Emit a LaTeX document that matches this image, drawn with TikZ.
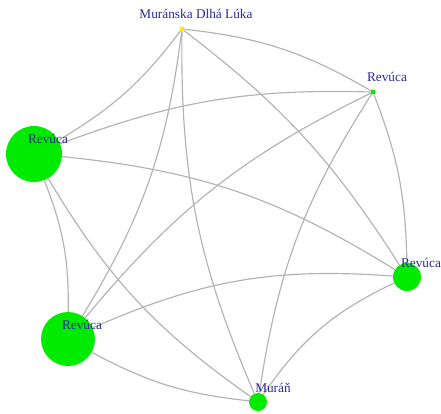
\documentclass[tikz,border=0pt]{standalone}
\usepackage{fontspec}
\setmainfont{Liberation Serif}
\definecolor{vgreen}{RGB}{0,235,0}
\definecolor{vyellow}{RGB}{255,225,20}
\definecolor{lblue}{RGB}{40,40,150}
\definecolor{egray}{RGB}{178,178,178}
\begin{document}
\begin{tikzpicture}[x=1pt, y=-1pt]

        \tikzstyle{town} = [circle, fill=vgreen, inner sep=0];
        \tikzstyle{townname} = [anchor=base, text=lblue, inner sep=0, font=\fontsize{13.3}{15}\selectfont];
        \tikzstyle{link} = [draw=egray, line width=1.15pt, bend angle=12];

        \useasboundingbox (0,0) rectangle (441,414);

        % Nodes
        \node[town, fill=vyellow, minimum size=5] (ML) at (182,29) {};
        \node[town, minimum size=5] (R1) at (373,92) {};
        \node[town, minimum size=56] (R2) at (34,154) {};
        \node[town, minimum size=28] (R3) at (407,277) {};
        \node[town, minimum size=54] (R4) at (68,339) {};
        \node[town, minimum size=18] (MU) at (258,402) {};

        % Edges
        \path[link] (ML) edge [bend left] (R1);
        \path[link] (ML) edge [bend left=11] (R2);
        \path[link] (ML) edge [bend left] (R4);
        \path[link] (ML) edge [bend right] (MU);
        \path[link] (ML) edge [bend left=10] (R3);

        \path[link] (R1) edge [bend right=11] (R2);
        \path[link] (R1) edge [bend right] (R4);
        \path[link] (R1) edge [bend right] (MU);
        \path[link] (R1) edge [bend left=10] (R3);

        \path[link] (R2) edge [bend left=13] (R3);
        \path[link] (R2) edge [bend left=11] (R4);
        \path[link] (R2) edge [bend right] (MU);

        \path[link] (R4) edge [bend left=14] (R3);
        \path[link] (R4) edge [bend right=11] (MU);

        \path[link] (R3) edge [bend right=15] (MU);

        % Labels
        \node[townname] (MLT) at ([shift={(14,-10)}]ML.center) {Muránska Dlhá Lúka};
        \node[townname] (R1T) at ([shift={(14,-10)}]R1.center) {Revúca};
        \node[townname] (R2T) at ([shift={(14,-10)}]R2.center) {Revúca};
        \node[townname] (R3T) at ([shift={(14,-10)}]R3.center) {Revúca};
        \node[townname] (R4T) at ([shift={(14,-10)}]R4.center) {Revúca};
        \node[townname] (MUT) at ([shift={(15,-10)}]MU.center) {Muráň};

\end{tikzpicture}
\end{document}
